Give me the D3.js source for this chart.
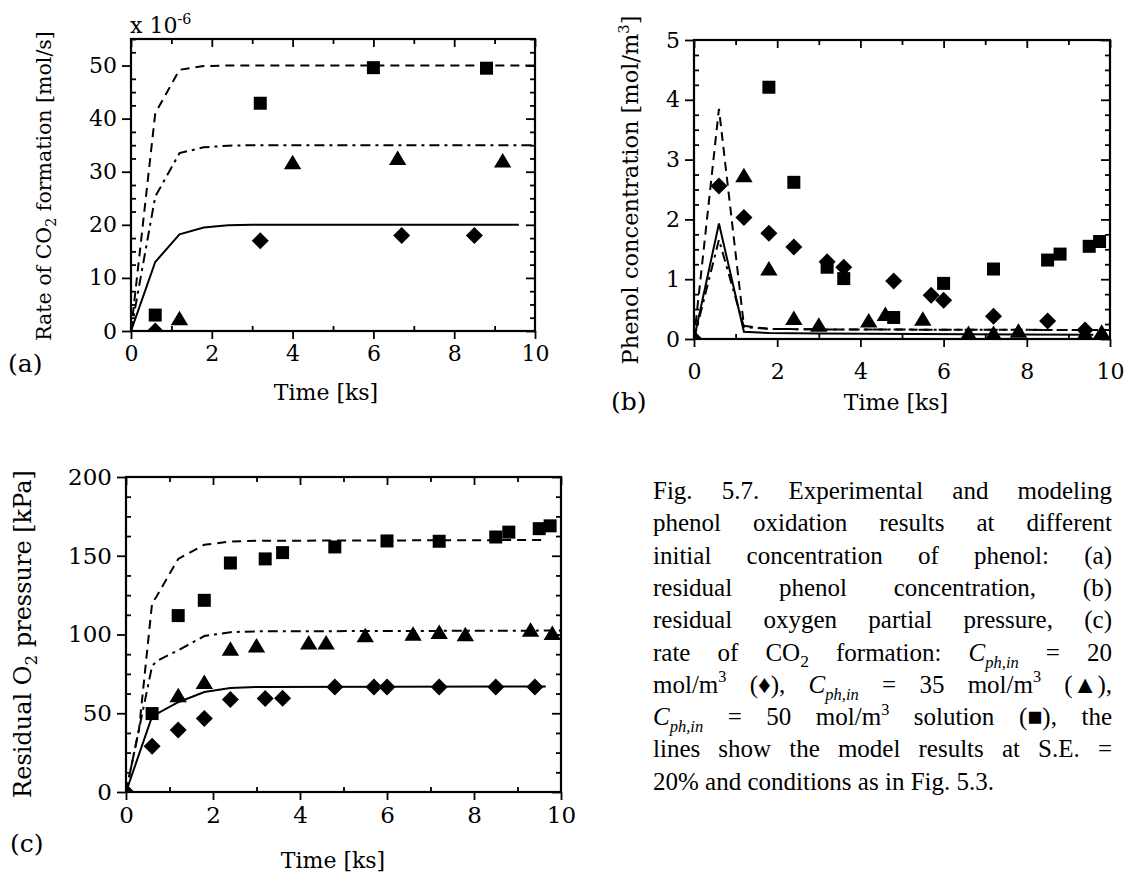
<!DOCTYPE html>
<html>
<head>
<meta charset="utf-8">
<script src="https://cdn.jsdelivr.net/npm/d3@7"></script>
<style>
  body { margin: 0; background: #fff; }
  svg { display: block; }
</style>
</head>
<body>
<svg id="fig" width="1130" height="875"></svg>
<script>
// ---------------- data ----------------
const timeTicks = [0, 2, 4, 6, 8, 10];

// (a) rate of CO2 formation, in units of 1e-6 mol/s
const co2Ticks = [0, 10, 20, 30, 40, 50];
const co2Diamond  = [[0.6, 0.0], [3.2, 17.0], [6.7, 18.0], [8.5, 18.0]];
const co2Triangle = [[1.2, 2.4], [4.0, 31.8], [6.6, 32.6], [9.2, 32.1]];
const co2Square   = [[0.6, 3.0], [3.2, 42.9], [6.0, 49.6], [8.8, 49.5]];
const co2Model20  = [[0, 0], [0.6, 13.0], [1.2, 18.2], [1.8, 19.5], [2.4, 19.9], [3.0, 20.0], [9.6, 20.0]];
const co2Model35  = [[0, 0], [0.6, 25.3], [1.2, 33.5], [1.8, 34.6], [2.4, 34.9], [3.0, 35.0], [10, 35.0]];
const co2Model50  = [[0, 0], [0.6, 41.0], [1.2, 49.2], [1.8, 49.9], [2.4, 50.0], [10, 50.0]];

// (b) phenol concentration, mol/m3
const phenolTicks = [0, 1, 2, 3, 4, 5];
const phenolDiamond  = [[0, 0], [0.6, 2.56], [1.2, 2.03], [1.8, 1.77], [2.4, 1.54], [3.2, 1.29], [3.6, 1.2],
                        [4.8, 0.97], [5.7, 0.73], [6.0, 0.65], [7.2, 0.38], [8.5, 0.3], [9.4, 0.15]];
const phenolTriangle = [[1.2, 2.74], [1.8, 1.18], [2.4, 0.35], [3.0, 0.24], [4.2, 0.31], [4.6, 0.42], [5.5, 0.34],
                        [6.6, 0.1], [7.2, 0.1], [7.8, 0.14], [9.4, 0.1], [9.8, 0.12]];
const phenolSquare   = [[1.8, 4.21], [2.4, 2.62], [3.2, 1.2], [3.6, 1.01], [4.8, 0.36], [6.0, 0.93],
                        [7.2, 1.17], [8.5, 1.32], [8.8, 1.42], [9.5, 1.55], [9.75, 1.63]];
const phenolModel20  = [[0, 0], [0.6, 1.93], [1.2, 0.12], [1.8, 0.1], [3.0, 0.09], [9.6, 0.07]];
const phenolModel35  = [[0, 0], [0.6, 1.66], [1.2, 0.2], [1.8, 0.17], [3.0, 0.16], [10, 0.15]];
const phenolModel50  = [[0, 0], [0.6, 3.85], [1.2, 0.22], [1.8, 0.17], [3.0, 0.16], [10, 0.15]];

// (c) residual O2 pressure, kPa
const o2Ticks = [0, 50, 100, 150, 200];
const o2Diamond  = [[0, 0], [0.6, 29], [1.2, 39.3], [1.8, 46.6], [2.4, 58.7], [3.2, 59.3], [3.6, 59.5],
                    [4.8, 66.7], [5.7, 66.7], [6.0, 66.7], [7.2, 66.7], [8.5, 66.7], [9.4, 66.7]];
const o2Triangle = [[1.2, 61.4], [1.8, 69.8], [2.4, 91], [3.0, 93], [4.2, 95], [4.6, 95], [5.5, 99.5],
                    [6.6, 100.5], [7.2, 101.6], [7.8, 100.1], [9.3, 103], [9.8, 101]];
const o2Square   = [[0.6, 49.8], [1.2, 112], [1.8, 121.7], [2.4, 145.4], [3.2, 148], [3.6, 152], [4.8, 155.6],
                    [6.0, 159.4], [7.2, 159.2], [8.5, 161.9], [8.8, 165], [9.5, 167.2], [9.75, 169]];
const o2Model20  = [[0, 0], [0.6, 48], [1.2, 57], [1.8, 63.5], [2.4, 66], [3.0, 66.7], [9.65, 67]];
const o2Model35  = [[0, 0], [0.6, 80], [0.7, 83], [1.2, 90], [1.8, 99], [2.4, 101.5], [3.0, 102], [10, 102.5]];
const o2Model50  = [[0, 0], [0.3, 40], [0.6, 120], [0.7, 124], [1.2, 148], [1.8, 157], [2.4, 159], [3.0, 159.5], [9.6, 160]];

// caption, one entry per printed line (*x* italic, _{x} subscript, _i{x} italic subscript, ^{x} superscript)
const captionLines = [
  "Fig. 5.7. Experimental and modeling",
  "phenol oxidation results at different",
  "initial concentration of phenol: (a)",
  "residual phenol concentration, (b)",
  "residual oxygen partial pressure, (c)",
  "rate of CO_{2} formation: *C*_i{ph,in} = 20",
  "mol/m^{3} (\u2666), *C*_i{ph,in} = 35 mol/m^{3} (\u25B2),",
  "*C*_i{ph,in} = 50 mol/m^{3} solution (\u25A0), the",
  "lines show the model results at S.E. =",
  "20% and conditions as in Fig. 5.3."
];

// ---------------- drawing ----------------
const svg = d3.select("#fig");
const AX_FONT = "DejaVu Serif";
const CAP_FONT = "'Liberation Serif', 'Times New Roman', serif";

// writes a string with simple markup into a <text> element as tspans
function addRich(textSel, str, size) {
  const parts = str.split(/(\*[^*]+\*|_i\{[^}]+\}|_\{[^}]+\}|\^\{[^}]+\})/).filter(s => s.length);
  let shift = 0;
  parts.forEach(p => {
    let t = p, italic = false, dy = 0, fs = size;
    if (p.startsWith("*")) { t = p.slice(1, -1); italic = true; }
    else if (p.startsWith("_i{")) { t = p.slice(3, -1); italic = true; dy = 0.28 * size; fs = 0.66 * size; }
    else if (p.startsWith("_{")) { t = p.slice(2, -1); dy = 0.25 * size; fs = 0.7 * size; }
    else if (p.startsWith("^{")) { t = p.slice(2, -1); dy = -0.42 * size; fs = 0.65 * size; }
    const ts = textSel.append("tspan").text(t).attr("font-size", fs);
    if (italic) ts.attr("font-style", "italic");
    const d = dy - shift;
    if (d !== 0) ts.attr("dy", d);
    shift = dy;
  });
}

const markerPath = {
  diamond: "M0,-8.5L8.5,0L0,8.5L-8.5,0Z",
  triangle: "M0,-7.5L8.7,7L-8.7,7Z",
  square: "M-6.5,-6.5H6.5V6.5H-6.5Z"
};

function drawPanel(cfg) {
  const x = d3.scaleLinear().domain([0, 10]).range([cfg.left, cfg.right]);
  const y = d3.scaleLinear().domain([0, cfg.yMax]).range([cfg.bottom, cfg.top]);
  const g = svg.append("g");

  const xMinor = d3.range(1, 10, 2);
  const xAll = d3.range(0, 11, 1);
  const isMajorY = v => cfg.yTicks.some(t => Math.abs(t - v) < 1e-9);
  const yAll = d3.range(0, cfg.yMax + 1e-9, cfg.yMinorStep);
  const yMinor = yAll.filter(v => !isMajorY(v));

  const styleAxis = sel => {
    sel.select(".domain").remove();
    sel.selectAll("line").attr("stroke", "#000").attr("stroke-width", 1.8);
    sel.selectAll("text").attr("font-family", AX_FONT).attr("font-size", cfg.font).attr("fill", "#000");
  };

  // bottom: labelled major ticks outward, minor ticks inward
  g.append("g").attr("transform", `translate(0,${cfg.bottom})`)
    .call(d3.axisBottom(x).tickValues(cfg.xTicks).tickSize(8).tickPadding(cfg.xPad).tickFormat(d3.format("d")))
    .call(styleAxis);
  g.append("g").attr("transform", `translate(0,${cfg.bottom})`)
    .call(d3.axisTop(x).tickValues(xMinor).tickSize(5).tickFormat(""))
    .call(styleAxis);
  // top: every tick inward
  g.append("g").attr("transform", `translate(0,${cfg.top})`)
    .call(d3.axisBottom(x).tickValues(xAll).tickSize(0).tickFormat(""))
    .call(styleAxis)
    .selectAll(".tick line").attr("y2", d => (d % 2 === 0 ? 8 : 5));
  // left: labelled major ticks outward, minor ticks inward
  g.append("g").attr("transform", `translate(${cfg.left},0)`)
    .call(d3.axisLeft(y).tickValues(cfg.yTicks).tickSize(9).tickPadding(5).tickFormat(d3.format("d")))
    .call(styleAxis);
  g.append("g").attr("transform", `translate(${cfg.left},0)`)
    .call(d3.axisRight(y).tickValues(yMinor).tickSize(5).tickFormat(""))
    .call(styleAxis);
  // right: every tick inward
  g.append("g").attr("transform", `translate(${cfg.right},0)`)
    .call(d3.axisLeft(y).tickValues(yAll).tickSize(0).tickFormat(""))
    .call(styleAxis)
    .selectAll(".tick line").attr("x2", d => (isMajorY(d) ? -9 : -5));

  // frame
  g.append("rect")
    .attr("x", cfg.left).attr("y", cfg.top)
    .attr("width", cfg.right - cfg.left).attr("height", cfg.bottom - cfg.top)
    .attr("fill", "none").attr("stroke", "#000").attr("stroke-width", 2.2);

  const clipId = "clip-" + cfg.id;
  g.append("clipPath").attr("id", clipId).append("rect")
    .attr("x", cfg.left).attr("y", cfg.top)
    .attr("width", cfg.right - cfg.left).attr("height", cfg.bottom - cfg.top);
  const plot = g.append("g").attr("clip-path", `url(#${clipId})`);

  const line = d3.line().x(d => x(d[0])).y(d => y(d[1]));
  const dashes = { solid: null, dash: "9,6", dashdot: "10,5,3,5" };
  cfg.models.forEach(m => {
    plot.append("path").datum(m.data).attr("d", line)
      .attr("fill", "none").attr("stroke", "#000").attr("stroke-width", 2)
      .attr("stroke-dasharray", dashes[m.style]);
  });
  cfg.points.forEach(s => {
    plot.selectAll(null).data(s.data).join("path")
      .attr("d", markerPath[s.shape])
      .attr("transform", d => `translate(${x(d[0])},${y(d[1])})`)
      .attr("fill", "#000");
  });

  // axis titles
  const yt = g.append("text")
    .attr("transform", `translate(${cfg.yTitleX},${cfg.yTitleY}) rotate(-90)`)
    .attr("text-anchor", "middle").attr("font-family", AX_FONT).attr("fill", "#000");
  addRich(yt, cfg.yTitle, cfg.yTitleSize);
  g.append("text").attr("x", cfg.xTitleX).attr("y", cfg.xTitleY)
    .attr("text-anchor", "middle").attr("font-family", AX_FONT).attr("font-size", 22)
    .text("Time [ks]");
  g.append("text").attr("x", cfg.tagX).attr("y", cfg.tagY)
    .attr("font-family", AX_FONT).attr("font-size", 25).text(cfg.tag);
  return { x, y, g };
}

// (a)
const pa = drawPanel({
  id: "a", left: 131, right: 535, top: 39, bottom: 331, yMax: 55, yTicks: co2Ticks, yMinorStep: 2.5,
  xTicks: timeTicks, xPad: 6, font: 22,
  models: [{ data: co2Model20, style: "solid" }, { data: co2Model35, style: "dashdot" }, { data: co2Model50, style: "dash" }],
  points: [{ data: co2Diamond, shape: "diamond" }, { data: co2Triangle, shape: "triangle" }, { data: co2Square, shape: "square" }],
  yTitle: "Rate of CO_{2} formation [mol/s]", yTitleSize: 20.5, yTitleX: 51, yTitleY: 186,
  xTitleX: 326, xTitleY: 400, tag: "(a)", tagX: 8, tagY: 372
});
const expo = pa.g.append("text").attr("x", 130).attr("y", 33)
  .attr("font-family", AX_FONT).attr("fill", "#000");
addRich(expo, "x 10^{-6}", 22);

// (b)
drawPanel({
  id: "b", left: 694, right: 1110, top: 40, bottom: 339, yMax: 5, yTicks: phenolTicks, yMinorStep: 0.25,
  xTicks: timeTicks, xPad: 16, font: 22,
  models: [{ data: phenolModel20, style: "solid" }, { data: phenolModel35, style: "dashdot" }, { data: phenolModel50, style: "dash" }],
  points: [{ data: phenolDiamond, shape: "diamond" }, { data: phenolTriangle, shape: "triangle" }, { data: phenolSquare, shape: "square" }],
  yTitle: "Phenol concentration [mol/m^{3}]", yTitleSize: 22.5, yTitleX: 638, yTitleY: 190,
  xTitleX: 896, xTitleY: 410, tag: "(b)", tagX: 611, tagY: 410
});

// (c)
drawPanel({
  id: "c", left: 126, right: 561, top: 477, bottom: 792, yMax: 200, yTicks: o2Ticks, yMinorStep: 12.5,
  xTicks: timeTicks, xPad: 7, font: 23,
  models: [{ data: o2Model20, style: "solid" }, { data: o2Model35, style: "dashdot" }, { data: o2Model50, style: "dash" }],
  points: [{ data: o2Diamond, shape: "diamond" }, { data: o2Triangle, shape: "triangle" }, { data: o2Square, shape: "square" }],
  yTitle: "Residual O_{2} pressure [kPa]", yTitleSize: 24, yTitleX: 31, yTitleY: 634,
  xTitleX: 333, xTitleY: 868, tag: "(c)", tagX: 10, tagY: 852
});

// caption, justified between two margins
const capLeft = 653, capRight = 1112, capFirst = 499, capStep = 32.3, CAP_SIZE = 25;
const cap = svg.append("g").style("font-family", CAP_FONT).attr("fill", "#000");
captionLines.forEach((ln, i) => {
  const words = ln.split(" ");
  const yb = capFirst + i * capStep;
  const nodes = words.map(w => {
    const t = cap.append("text").attr("y", yb).attr("font-size", CAP_SIZE).style("font-family", CAP_FONT);
    addRich(t, w, CAP_SIZE);
    return t;
  });
  const widths = nodes.map(n => n.node().getComputedTextLength());
  const total = d3.sum(widths);
  const last = i === captionLines.length - 1;
  const gap = last ? 0.25 * CAP_SIZE : (capRight - capLeft - total) / (words.length - 1);
  let cx = capLeft;
  nodes.forEach((n, k) => { n.attr("x", cx); cx += widths[k] + gap; });
});
</script>
</body>
</html>
